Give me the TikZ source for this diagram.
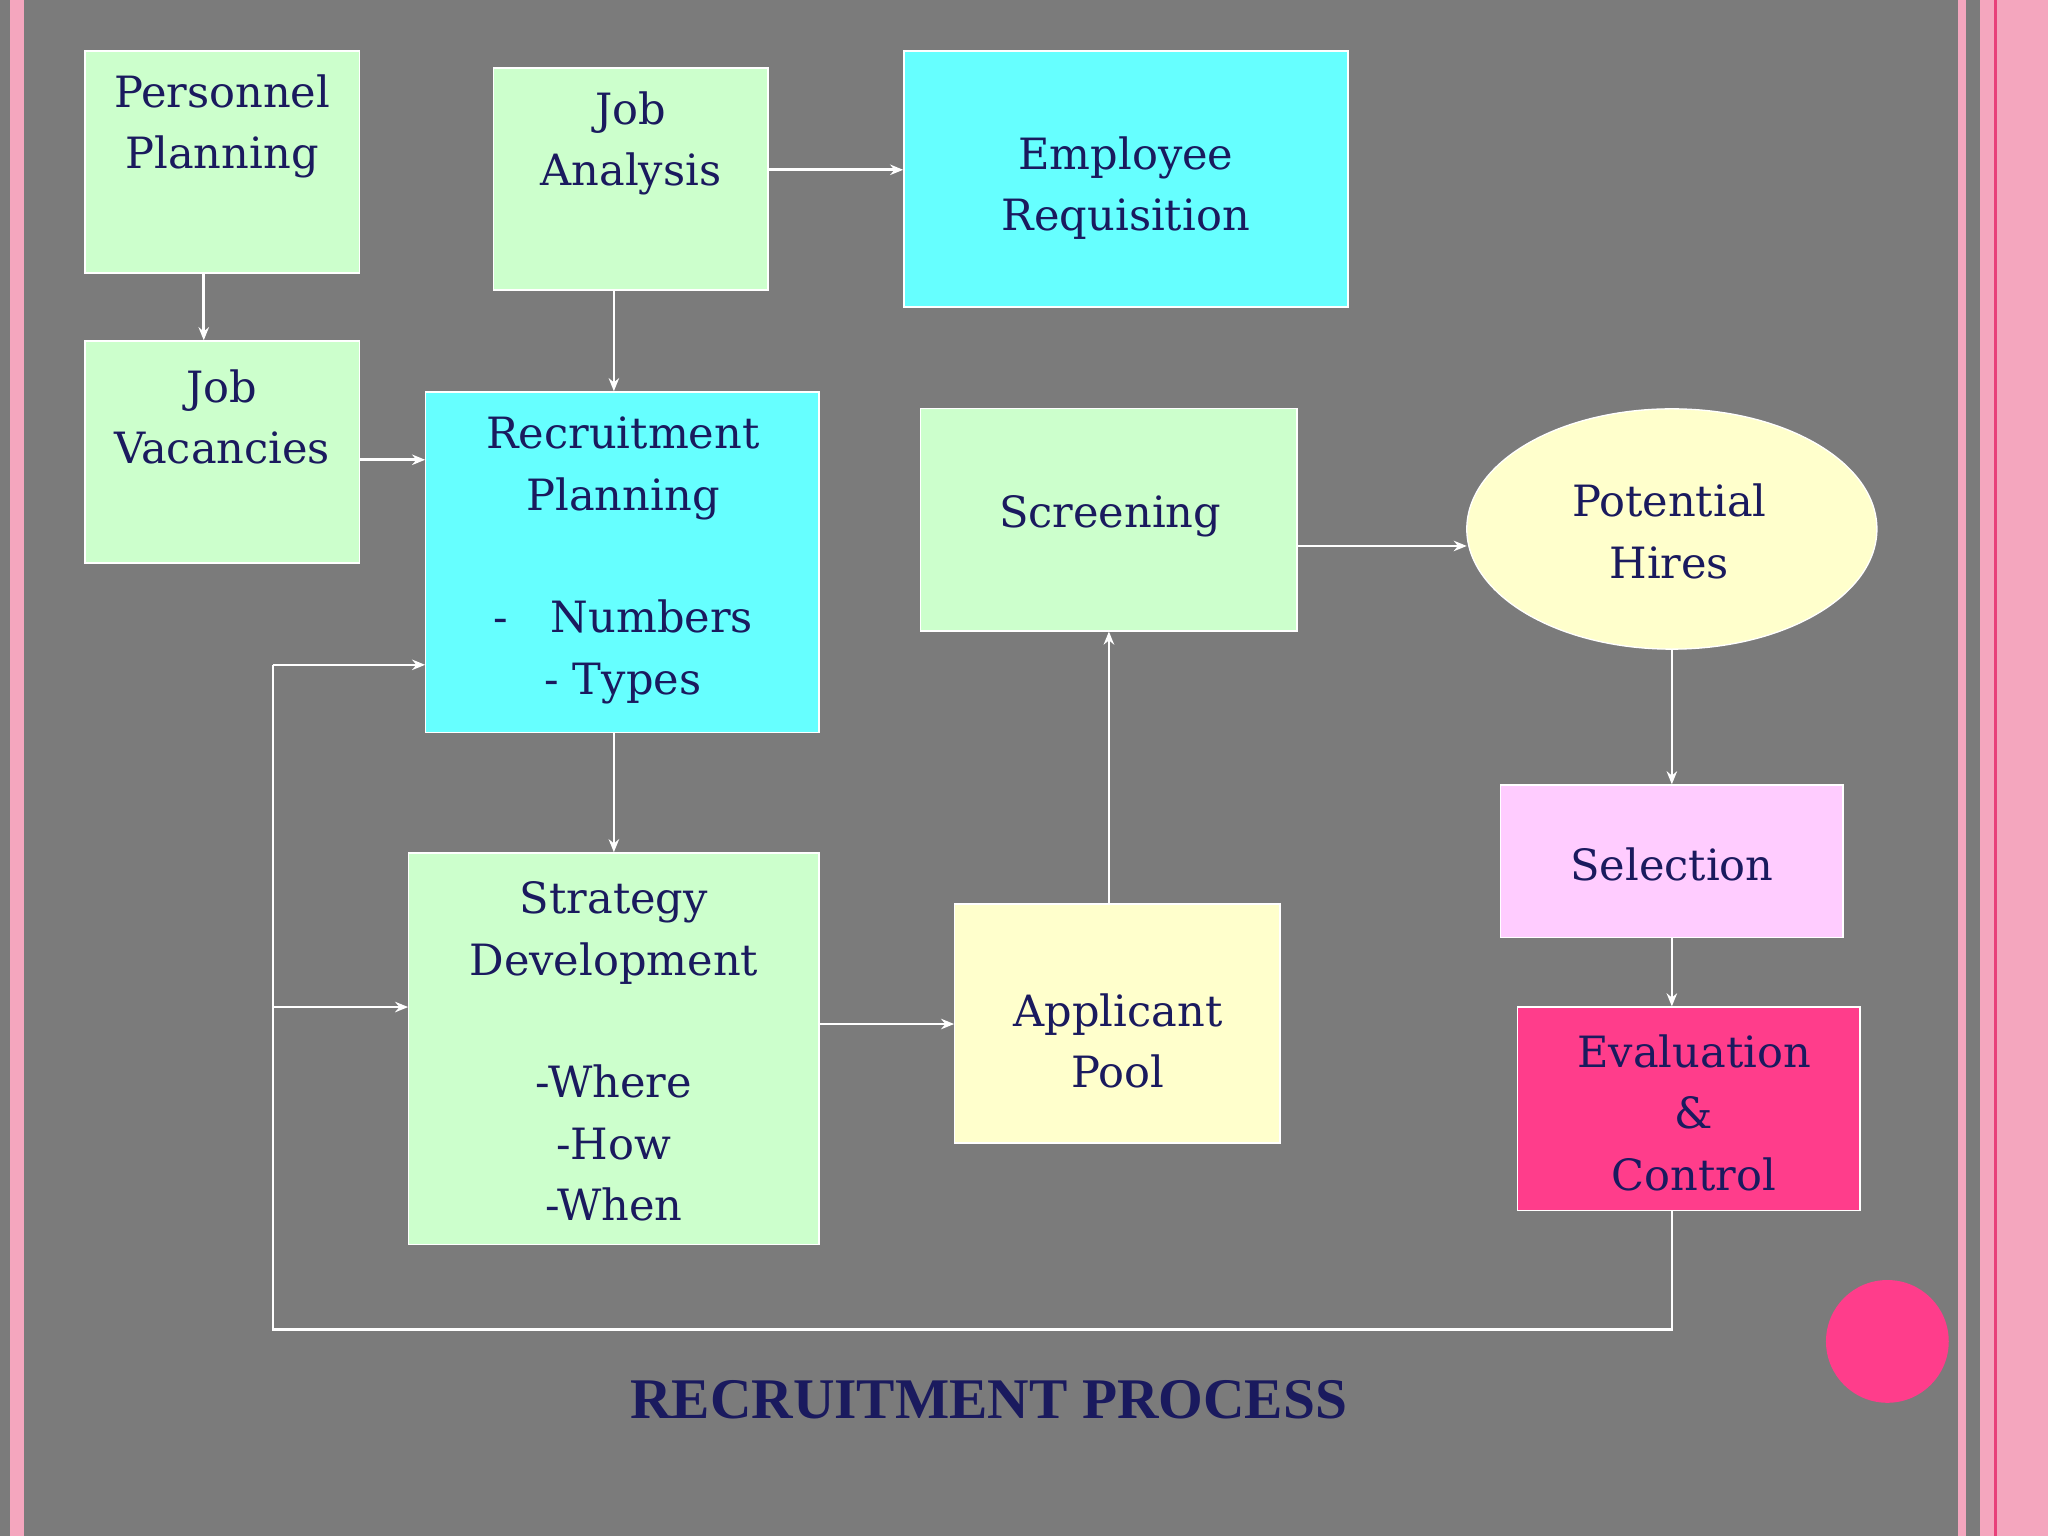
\documentclass[tikz,border=0pt]{standalone}
\usepackage{fontspec}
\setmainfont{DejaVu Serif}
\usetikzlibrary{shapes.geometric,arrows.meta}
\definecolor{bg}{HTML}{7B7B7B}
\definecolor{pk}{HTML}{F4A6BE}
\definecolor{dpk}{HTML}{E8407A}
\definecolor{lg}{HTML}{CCFFCC}
\definecolor{cy}{HTML}{66FFFF}
\definecolor{ly}{HTML}{FFFFCC}
\definecolor{lv}{HTML}{FFCCFF}
\definecolor{hp}{HTML}{FF3D8B}
\definecolor{nv}{HTML}{1A1A5E}
\begin{document}
\begin{tikzpicture}[x=1pt,y=-1pt,
  box/.style={draw=white,line width=1pt,inner sep=0pt},
  txt/.style={text=nv,font=\fontsize{33}{47}\selectfont,align=center,inner sep=0pt},
  arr/.style={draw=white,line width=2pt,-{Stealth[length=10pt,width=8pt]}},
  ln/.style={draw=white,line width=2pt}]
\useasboundingbox (0,0) rectangle (1568,1176);
\fill[bg] (0,0) rectangle (1568,1176);
\fill[pk] (8,0) rectangle (18,1176);
\fill[pk] (1499,0) rectangle (1505,1176);
\fill[pk] (1516,0) rectangle (1568,1176);
\fill[dpk] (1527,0) rectangle (1529,1176);
\fill[hp] (1445,1027) circle (47);
% boxes
\node[box,fill=lg,minimum width=210pt,minimum height=170pt] (pp) at (170,124) {};
\node[box,fill=lg,minimum width=210pt,minimum height=170pt] (ja) at (483,137) {};
\node[box,fill=cy,minimum width=340pt,minimum height=196pt] (er) at (862,137) {};
\node[box,fill=lg,minimum width=210pt,minimum height=170pt] (jv) at (170,346) {};
\node[box,fill=cy,minimum width=301pt,minimum height=261pt] (rp) at (476.5,430.5) {};
\node[box,fill=lg,minimum width=288pt,minimum height=170pt] (sc) at (849,398) {};
\node[box,ellipse,fill=ly,minimum width=314pt,minimum height=184pt] (ph) at (1280,405) {};
\node[box,fill=lv,minimum width=262pt,minimum height=117pt] (se) at (1280,659.5) {};
\node[box,fill=hp,minimum width=262pt,minimum height=156pt] (ev) at (1293,849) {};
\node[box,fill=lg,minimum width=314pt,minimum height=300pt] (sd) at (470,803) {};
\node[box,fill=ly,minimum width=249pt,minimum height=183pt] (ap) at (855.5,783.5) {};
% texts
\node[txt] at (170,97) {Personnel\\Planning};
\node[txt] at (483,110) {Job\\Analysis};
\node[txt] at (862,144) {Employee\\Requisition};
\node[txt] at (170,319) {Job\\Vacancies};
\node[txt] at (477,429) {Recruitment\\Planning\\[47pt]-\hspace{1em}Numbers\\- Types};
\node[txt] at (850,395) {Screening};
\node[txt] at (1278,407) {Potential\\ Hires};
\node[txt] at (1280,662) {Selection};
\node[txt] at (1297,852) {Evaluation\\\&\\Control};
\node[txt] at (470,805) {Strategy\\Development\\[47pt]-Where\\-How\\-When};
\node[txt] at (856,797) {Applicant\\Pool};
\node[text=nv,font=\bfseries\fontsize{44}{50}\selectfont,inner sep=0pt] (title) at (757,1072) {\setmainfont{Liberation Serif}\bfseries RECRUITMENT PROCESS};
% arrows
\draw[arr] (pp.south -| 156,0) -- (jv.north -| 156,0);
\draw[arr] (ja.east |- 0,130) -- (er.west |- 0,130);
\draw[arr] (ja.south -| 470,0) -- (rp.north -| 470,0);
\draw[arr] (jv.east |- 0,352) -- (rp.west |- 0,352);
\draw[arr] (rp.south -| 470,0) -- (sd.north -| 470,0);
\draw[arr] (sd.east |- 0,784) -- (ap.west |- 0,784);
\draw[arr] (ap.north -| 849,0) -- (sc.south -| 849,0);
\draw[arr] (sc.east |- 0,418) -- (1123,418);
\draw[arr] (ph.south) -- (se.north);
\draw[arr] (se.south) -- (ev.north -| se.south);
\coordinate (c1) at (1280,1018);
\coordinate (c2) at (209,1018);
\coordinate (c3) at (209,509);
\coordinate (c4) at (209,771);
\draw[ln] (ev.south -| 1280,0) -- (c1) -- (c2) -- (c3);
\draw[arr] (c3) -- (rp.west |- c3);
\draw[arr] (c4) -- (sd.west |- c4);
\end{tikzpicture}
\end{document}
